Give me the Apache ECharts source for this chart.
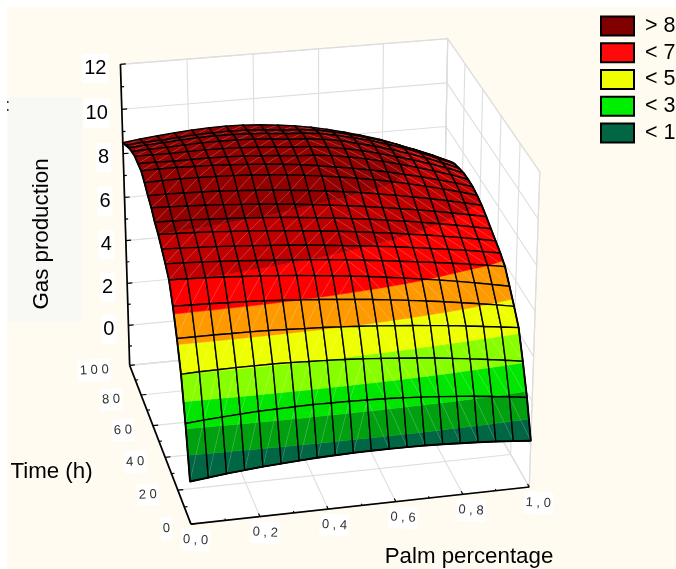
<!DOCTYPE html>
<html><head><meta charset="utf-8">
<style>html,body{margin:0;padding:0;background:#fff}#c{width:676px;height:569px}</style>
<script src="https://cdn.jsdelivr.net/npm/echarts@6/dist/echarts.min.js"></script>
</head><body><div id="c"></div>
<script>
const palmGrid=[0,.0526,.1053,.1579,.2105,.2632,.3158,.3684,.4211,.4737,.5263,.5789,.6316,.6842,.7368,.7895,.8421,.8947,.9474,1];
const timeGrid=[0,5.26,10.53,15.79,21.05,26.32,31.58,36.84,42.11,47.37,52.63,57.89,63.16,68.42,73.68,78.95,84.21,89.47,94.74,100];
const gasProduction=[
[0,.09,.18,.25,.32,.37,.42,.46,.49,.51,.52,.52,.51,.50,.47,.43,.39,.34,.27,.20],
[2.20,2.27,2.32,2.37,2.41,2.43,2.45,2.46,2.45,2.44,2.42,2.39,2.35,2.30,2.24,2.17,2.09,2.00,1.90,1.79],
[4.00,4.03,4.04,4.05,4.05,4.05,4.03,4.00,3.97,3.93,3.88,3.82,3.75,3.68,3.60,3.50,3.40,3.29,3.18,3.05],
[5.20,5.20,5.20,5.19,5.18,5.16,5.13,5.09,5.06,5.01,4.96,4.90,4.83,4.76,4.68,4.60,4.51,4.41,4.31,4.20],
[6.25,6.23,6.21,6.18,6.15,6.11,6.06,6.00,5.94,5.87,5.79,5.71,5.62,5.52,5.42,5.31,5.19,5.07,4.94,4.80],
[7.05,7.02,6.99,6.95,6.90,6.85,6.79,6.72,6.64,6.56,6.47,6.38,6.27,6.16,6.04,5.92,5.79,5.65,5.50,5.35],
[7.40,7.37,7.33,7.29,7.24,7.18,7.12,7.06,6.99,6.92,6.84,6.75,6.66,6.56,6.46,6.36,6.25,6.13,6.01,5.88],
[7.70,7.67,7.63,7.59,7.54,7.49,7.43,7.36,7.29,7.22,7.13,7.05,6.95,6.86,6.75,6.64,6.53,6.41,6.28,6.15],
[8.00,7.97,7.94,7.90,7.85,7.80,7.73,7.67,7.59,7.51,7.43,7.33,7.23,7.13,7.01,6.90,6.77,6.64,6.50,6.35],
[8.20,8.18,8.16,8.12,8.08,8.03,7.98,7.91,7.84,7.76,7.68,7.58,7.48,7.37,7.26,7.13,7.00,6.86,6.71,6.56],
[8.50,8.47,8.44,8.40,8.36,8.30,8.24,8.17,8.10,8.01,7.92,7.82,7.72,7.60,7.48,7.36,7.22,7.08,6.93,6.77],
[8.70,8.70,8.68,8.66,8.63,8.58,8.53,8.47,8.39,8.31,8.22,8.12,8.01,7.88,7.75,7.61,7.46,7.30,7.13,6.95],
[8.95,8.97,8.98,8.97,8.95,8.92,8.88,8.82,8.75,8.66,8.56,8.45,8.33,8.19,8.04,7.87,7.69,7.50,7.30,7.08],
[9.15,9.16,9.16,9.14,9.12,9.08,9.03,8.97,8.90,8.81,8.70,8.58,8.45,8.31,8.15,7.97,7.79,7.59,7.38,7.15],
[9.15,9.14,9.12,9.13,9.13,9.11,9.08,9.03,8.97,8.89,8.85,8.77,8.64,8.49,8.31,8.11,7.90,7.67,7.43,7.16],
[9.15,9.15,9.14,9.16,9.17,9.16,9.14,9.09,9.04,8.96,8.92,8.83,8.70,8.54,8.35,8.14,7.92,7.68,7.42,7.13],
[9.05,9.08,9.10,9.14,9.17,9.18,9.17,9.14,9.08,9.00,8.96,8.87,8.74,8.55,8.36,8.14,7.89,7.63,7.34,7.03],
[8.90,8.95,8.99,9.05,9.09,9.11,9.10,9.07,9.02,8.94,8.90,8.82,8.67,8.49,8.30,8.07,7.82,7.53,7.23,6.91],
[8.70,8.76,8.79,8.85,8.91,8.93,8.94,8.92,8.87,8.79,8.75,8.67,8.52,8.34,8.13,7.91,7.64,7.35,7.04,6.70],
[8.50,8.60,8.68,8.75,8.81,8.85,8.86,8.84,8.79,8.71,8.61,8.48,8.31,8.12,7.90,7.67,7.39,7.08,6.76,6.40]
];
const bandEdges=[-99,1,2,3,4,5,6,7,8,99];
const bandColors=['#006644','#00A010','#00E600','#88FF00','#EEFF00','#FF9900','#FF0000','#C00000','#940000'];
const legendNames=['> 8','< 7','< 5','< 3','< 1'];
const legendColors=['#800000','#FF0A0A','#F0FF00','#00EE00','#006644'];
const gasTicks=[0,2,4,6,8,10,12];
const gasMinorTicks=[1,3,5,7,9,11,-1];
const timeTicks=[0,20,40,60,80,100];
const timeTickLabels=['0','2 0','4 0','6 0','8 0','1 0 0'];
const timeMinorTicks=[10,30,50,70,90];
const palmTicks=[0,.2,.4,.6,.8,1];
const palmTickLabels=['0 , 0','0 , 2','0 , 4','0 , 6','0 , 8','1 , 0'];
const palmMinorTicks=[.1,.3,.5,.7,.9];

const zFloor=-1.93,zTop=12;
// box corners on the page: [palm 0..1, time 0..1, height 0..1, px, py]
const anchors=[[0,0,0,190,526],[1,0,0,530,484],[0,1,0,130,363],[1,1,0,442,338],[0,1,1,121,65],[1,1,1,447,37],[1,0,1,540,173]];
function fitCamera(a){
  const rows=[],rhs=[];
  a.forEach(([u,v,w,x,y])=>{
    rows.push([u,v,w,1,0,0,0,0,-x*u,-x*v,-x*w]);rhs.push(x);
    rows.push([0,0,0,0,u,v,w,1,-y*u,-y*v,-y*w]);rhs.push(y);
  });
  const n=11,M=[];
  for(let i=0;i<n;i++){M.push([]);for(let j=0;j<=n;j++){let s=0;rows.forEach((r,k)=>{s+=r[i]*(j<n?r[j]:rhs[k]);});M[i].push(s);}}
  for(let c=0;c<n;c++){
    let b=c;for(let r=c+1;r<n;r++)if(Math.abs(M[r][c])>Math.abs(M[b][c]))b=r;
    [M[c],M[b]]=[M[b],M[c]];
    for(let r=0;r<n;r++){if(r===c)continue;const f=M[r][c]/M[c][c];for(let k=c;k<=n;k++)M[r][k]-=f*M[c][k];}
  }
  return M.map((r,i)=>r[n]/r[i]);
}
const P=fitCamera(anchors);
function project(p,t,z){
  const u=p,v=t/100,w=(z-zFloor)/(zTop-zFloor),d=P[8]*u+P[9]*v+P[10]*w+1;
  return [(P[0]*u+P[1]*v+P[2]*w+P[3])/d,(P[4]*u+P[5]*v+P[6]*w+P[7])/d];
}
function clipAbove(poly,lvl,sign){
  const out=[];
  for(let i=0;i<poly.length;i++){
    const a=poly[i],b=poly[(i+1)%poly.length],da=(a[2]-lvl)*sign,db=(b[2]-lvl)*sign;
    if(da>=0)out.push(a);
    if(da*db<0){const s=da/(da-db);out.push([a[0]+(b[0]-a[0])*s,a[1]+(b[1]-a[1])*s,a[2]+(b[2]-a[2])*s]);}
  }
  return out;
}
const font='"Liberation Sans", Arial, sans-serif';
function pts(api,list){return list.map(q=>api.coord(project(q[0],q[1],q[2])));}
function seg(api,a,b,color,lw){
  const s=pts(api,[a,b]);
  return {type:'line',silent:true,shape:{x1:s[0][0],y1:s[0][1],x2:s[1][0],y2:s[1][1]},style:{stroke:color,lineWidth:lw}};
}
function label(api,base,dx,dy,text,size,align,rot,color){
  const c=api.coord(project(base[0],base[1],base[2]));
  return {type:'text',silent:true,x:c[0]+dx,y:c[1]+dy,rotation:rot,style:{text:text,fill:color,font:size+'px '+font,align:align,verticalAlign:'middle',backgroundColor:'#fff',padding:[5,2,4,2]}};
}
function renderBox(params,api){
  const kids=[],g='#DEDEDE',top=zTop,low=zFloor;
  const wall=(list)=>({type:'polygon',silent:true,shape:{points:pts(api,list)},style:{fill:'#fff',stroke:g,lineWidth:1.2}});
  kids.push(wall([[0,100,low],[1,100,low],[1,100,top],[0,100,top]]));
  kids.push(wall([[1,0,low],[1,100,low],[1,100,top],[1,0,top]]));
  kids.push(wall([[0,0,low],[1,0,low],[1,100,low],[0,100,low]]));
  gasTicks.forEach(z=>{
    kids.push(seg(api,[0,100,z],[1,100,z],g,1.1));
    kids.push(seg(api,[1,100,z],[1,0,z],g,1.1));
  });
  palmTicks.forEach(p=>{
    kids.push(seg(api,[p,100,low],[p,100,top],g,1.1));
    kids.push(seg(api,[p,0,low],[p,100,low],g,1.1));
  });
  timeTicks.forEach(t=>{
    kids.push(seg(api,[0,t,low],[1,t,low],g,1.1));
    kids.push(seg(api,[1,t,low],[1,t,top],g,1.1));
  });
  return {type:'group',children:kids};
}
function renderCell(params,api){
  const j=api.value(0),i=api.value(1);
  const c=[[palmGrid[j],timeGrid[i],gasProduction[i][j]],[palmGrid[j+1],timeGrid[i],gasProduction[i][j+1]],
           [palmGrid[j+1],timeGrid[i+1],gasProduction[i+1][j+1]],[palmGrid[j],timeGrid[i+1],gasProduction[i+1][j]]];
  const leftHalf=j<=9;
  const tris=leftHalf?[[c[0],c[1],c[2]],[c[0],c[2],c[3]]]:[[c[0],c[1],c[3]],[c[1],c[2],c[3]]];
  const kids=[];
  tris.forEach(tri=>{
    bandColors.forEach((col,b)=>{
      let poly=clipAbove(tri,bandEdges[b],1);
      if(poly.length>2)poly=clipAbove(poly,bandEdges[b+1],-1);
      if(poly.length>2)kids.push({type:'polygon',silent:true,shape:{points:pts(api,poly)},style:{fill:col,stroke:col,lineWidth:.5}});
    });
  });
  const d=leftHalf?[c[0],c[2]]:[c[1],c[3]];
  kids.push(seg(api,d[0],d[1],'rgba(255,255,255,0.24)',.6));
  kids.push({type:'polygon',silent:true,shape:{points:pts(api,c)},style:{fill:'none',stroke:'#000',lineWidth:1.4}});
  return {type:'group',children:kids};
}
function renderEdges(params,api){
  const front=palmGrid.map((p,j)=>[p,timeGrid[0],gasProduction[0][j]]);
  const left=timeGrid.map((t,i)=>[palmGrid[0],t,gasProduction[i][0]]);
  const right=timeGrid.map((t,i)=>[palmGrid[19],t,gasProduction[i][19]]).slice(0,18);
  const kids=[front,left,right].map(l=>({type:'polyline',silent:true,shape:{points:pts(api,l)},style:{fill:'none',stroke:'#000',lineWidth:1.9}}));
  return {type:'group',children:kids};
}
function renderAxes(params,api){
  const kids=[],k='#000',low=zFloor,top=zTop;
  kids.push(seg(api,[0,100,low],[0,100,top],k,1.7));
  kids.push(seg(api,[0,0,low],[0,100,low],k,1.7));
  kids.push(seg(api,[0,0,low],[1,0,low],k,1.7));
  gasTicks.forEach(z=>kids.push(seg(api,[0,100,z],[0.016,100,z],k,1.2)));
  gasMinorTicks.forEach(z=>kids.push(seg(api,[0,100,z],[0.009,100,z],k,1.1)));
  timeTicks.forEach(t=>kids.push(seg(api,[0,t,low],[0.016,t,low],k,1.2)));
  timeMinorTicks.forEach(t=>kids.push(seg(api,[0,t,low],[0.009,t,low],k,1.1)));
  palmTicks.forEach(p=>kids.push(seg(api,[p,0,low],[p,1.8,low],k,1.2)));
  palmMinorTicks.forEach(p=>kids.push(seg(api,[p,0,low],[p,1,low],k,1.1)));
  gasTicks.forEach(z=>kids.push(label(api,[0,100,z],-12,4,String(z),20,'right',0,'#000')));
  timeTicks.forEach((t,n)=>kids.push(label(api,[0,t,low],-19,4,timeTickLabels[n],13,'right',.05,'#333')));
  palmTicks.forEach((p,n)=>kids.push(label(api,[p,0,low],4.5+p*4.5,16,palmTickLabels[n],13,'center',-.05,'#333')));
  return {type:'group',children:kids};
}
const axisTitle=(text,x,y,rot)=>({type:'text',silent:true,x:x,y:y,rotation:rot,style:{text:text,fill:'#000',font:'22.3px '+font,align:'center',verticalAlign:'middle'}});
const chart=echarts.init(document.getElementById('c'),null,{renderer:'canvas',width:676,height:569});
const cells=[];
for(let i=timeGrid.length-2;i>=0;i--)for(let j=0;j<palmGrid.length-1;j++)cells.push([j,i]);
const base={type:'custom',coordinateSystem:'cartesian2d',clip:false,silent:true,animation:false,progressive:0,encode:{x:0,y:1}};
chart.setOption({
  animation:false,
  backgroundColor:'#fff',
  grid:{left:0,top:0,right:0,bottom:0},
  xAxis:{type:'value',min:0,max:676,show:false},
  yAxis:{type:'value',min:0,max:569,inverse:true,show:false},
  legend:{show:true,orient:'vertical',left:595,top:10,itemWidth:33,itemHeight:19,itemGap:4.75,selectedMode:false,
    icon:'rect',textStyle:{fontFamily:font,fontSize:21.5,color:'#000',padding:[0,0,0,6]},
    data:legendNames.map((n,i)=>({name:n,icon:'rect',itemStyle:{color:legendColors[i],borderColor:'#000',borderWidth:2}}))},
  graphic:[
    {type:'rect',z:-10,silent:true,shape:{x:7,y:7,width:669,height:562},style:{fill:'#FFFBF0'}},
    {type:'rect',z:-9,silent:true,shape:{x:8,y:97,width:74,height:225},style:{fill:'#F8F8F5'}},
    {type:'rect',z:-8,silent:true,shape:{x:7,y:101,width:1.5,height:2},style:{fill:'#333'}},
    {type:'rect',z:-8,silent:true,shape:{x:7,y:109,width:1.5,height:2},style:{fill:'#333'}},
    {...axisTitle('Gas production',42,234,Math.PI/2),z:50},
    {...axisTitle('Time (h)',51.5,472,0),z:50},
    {...axisTitle('Palm percentage',469,557,0),z:50}
  ],
  series:[
    {...base,name:'box',z:2,data:[[0,0]],renderItem:renderBox},
    {...base,name:'surface',z:3,data:cells,renderItem:renderCell},
    {...base,name:'edges',z:4,data:[[0,0]],renderItem:renderEdges},
    {...base,name:'axes',z:5,data:[[0,0]],renderItem:renderAxes},
    ...legendNames.map((n,i)=>({...base,name:n,data:[],itemStyle:{color:legendColors[i]},renderItem:()=>null}))
  ]
});
</script></body></html>
